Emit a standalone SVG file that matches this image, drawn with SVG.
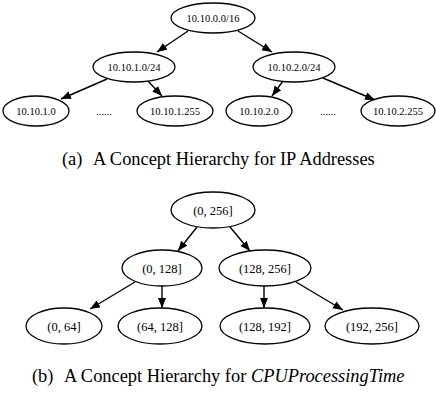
<svg xmlns="http://www.w3.org/2000/svg" width="436" height="396" viewBox="0 0 436 396">
<style>
  .node ellipse { fill: #ffffff; stroke: #000000; stroke-width: 1.3; }
  .la { font-family: "Liberation Serif", "Times New Roman", serif; font-size: 10.5px; fill: #000; text-anchor: middle; }
  .lb { font-family: "Liberation Serif", "Times New Roman", serif; font-size: 12.5px; fill: #000; text-anchor: middle; }
  .edge { stroke: #000; stroke-width: 1.4; fill: none; marker-end: url(#arr); }
  .cap { font-family: "Liberation Serif", "Times New Roman", serif; font-size: 18.4px; fill: #000; }
</style>
<defs>
  <marker id="arr" markerUnits="userSpaceOnUse" markerWidth="12" markerHeight="10" refX="10" refY="4" orient="auto">
    <path d="M0,0 L10,4 L0,8 Z" fill="#000"/>
  </marker>
</defs>
<g id="connectors">
  <line class="edge" x1="188" y1="31" x2="157" y2="52"/>
  <line class="edge" x1="238" y1="31" x2="272" y2="52"/>
  <line class="edge" x1="107" y1="79" x2="61" y2="99"/>
  <line class="edge" x1="148" y1="81" x2="162" y2="96"/>
  <line class="edge" x1="283" y1="81" x2="272" y2="96"/>
  <line class="edge" x1="323" y1="78" x2="375" y2="100"/>
  <line class="edge" x1="197" y1="227" x2="178" y2="251"/>
  <line class="edge" x1="230" y1="227" x2="250" y2="251"/>
  <line class="edge" x1="135" y1="282" x2="90" y2="309"/>
  <line class="edge" x1="162" y1="286" x2="162" y2="308"/>
  <line class="edge" x1="264" y1="286" x2="264" y2="308"/>
  <line class="edge" x1="296" y1="282" x2="343" y2="310"/>
</g>
<g id="n0" class="node"><ellipse cx="213" cy="18" rx="42" ry="15"/><text class="la" x="213" y="22">10.10.0.0/16</text></g>
<g id="n1" class="node"><ellipse cx="134" cy="67" rx="41" ry="15"/><text class="la" x="134" y="71">10.10.1.0/24</text></g>
<g id="n2" class="node"><ellipse cx="294" cy="67" rx="41" ry="15"/><text class="la" x="294" y="71">10.10.2.0/24</text></g>
<g id="n3" class="node"><ellipse cx="36" cy="111" rx="33" ry="15"/><text class="la" x="36" y="115">10.10.1.0</text></g>
<g id="n4" class="node"><ellipse cx="175" cy="111" rx="38" ry="15"/><text class="la" x="175" y="115">10.10.1.255</text></g>
<g id="n5" class="node"><ellipse cx="259" cy="111" rx="33" ry="15"/><text class="la" x="259" y="115">10.10.2.0</text></g>
<g id="n6" class="node"><ellipse cx="398" cy="111" rx="37" ry="15"/><text class="la" x="398" y="115">10.10.2.255</text></g>
<g id="dots1"><text class="la" x="104" y="115">......</text></g>
<g id="dots2"><text class="la" x="328" y="115">......</text></g>
<text class="cap" x="62" y="165">(a)<tspan x="93">A Concept Hierarchy for IP Addresses</tspan></text>
<g id="m0" class="node"><ellipse cx="213" cy="210" rx="42" ry="18"/><text class="lb" x="213" y="214.5">(0, 256]</text></g>
<g id="m1" class="node"><ellipse cx="162" cy="268" rx="40" ry="18"/><text class="lb" x="162" y="272.5">(0, 128]</text></g>
<g id="m2" class="node"><ellipse cx="265" cy="268" rx="46" ry="18"/><text class="lb" x="265" y="272.5">(128, 256]</text></g>
<g id="m3" class="node"><ellipse cx="64" cy="326" rx="38" ry="18"/><text class="lb" x="64" y="330.5">(0, 64]</text></g>
<g id="m4" class="node"><ellipse cx="160" cy="326" rx="42" ry="18"/><text class="lb" x="160" y="330.5">(64, 128]</text></g>
<g id="m5" class="node"><ellipse cx="265" cy="326" rx="45" ry="18"/><text class="lb" x="265" y="330.5">(128, 192]</text></g>
<g id="m6" class="node"><ellipse cx="372" cy="326" rx="47" ry="18"/><text class="lb" x="372" y="330.5">(192, 256]</text></g>
<text class="cap" x="32" y="382">(b)<tspan x="64">A Concept Hierarchy for <tspan font-style="italic">CPUProcessingTime</tspan></tspan></text>
</svg>
